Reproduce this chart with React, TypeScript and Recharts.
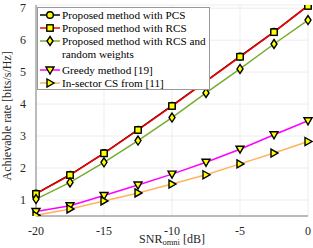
import { LineChart, Line, XAxis, YAxis, CartesianGrid } from "recharts";

const snr = [-20, -17.5, -15, -12.5, -10, -7.5, -5, -2.5, 0];
const pcs = [1.2, 1.79, 2.47, 3.2, 3.95, 4.72, 5.49, 6.26, 7.08];
const rcs = [1.19, 1.78, 2.46, 3.19, 3.94, 4.71, 5.48, 6.25, 7.07];
const rcsRandom = [1.03, 1.55, 2.18, 2.86, 3.58, 4.35, 5.1, 5.88, 6.63];
const greedy = [0.64, 0.82, 1.14, 1.47, 1.81, 2.18, 2.59, 3.04, 3.48];
const inSector = [0.52, 0.72, 0.97, 1.22, 1.5, 1.79, 2.13, 2.47, 2.83];

const xTicks = [-20, -15, -10, -5, 0];
const yTicks = [1, 2, 3, 4, 5, 6, 7];

const legendLabels = [
  ["Proposed method with PCS"],
  ["Proposed method with RCS"],
  ["Proposed method with RCS and", "random weights"],
  ["Greedy method [19]"],
  ["In-sector CS from [11]"],
];

const data = snr.map((x, i) => ({
  snr: x,
  pcs: pcs[i],
  rcs: rcs[i],
  rcsRandom: rcsRandom[i],
  greedy: greedy[i],
  inSector: inSector[i],
}));

const FONT = "Liberation Serif";
const YELLOW = "#ffff00";
const colors = ["#000000", "#ff0000", "#77ac30", "#ff00ff", "#ffb35c"];
const shapes = ["circle", "square", "diamond", "down", "right"];

function Marker({ shape, cx, cy }: { shape: string; cx: number; cy: number }) {
  const p = { fill: YELLOW, stroke: "#000", strokeWidth: 1.4 };
  if (shape === "circle") return <circle cx={cx} cy={cy} r={3.3} {...p} />;
  if (shape === "square") return <rect x={cx - 3.2} y={cy - 3.2} width={6.4} height={6.4} {...p} />;
  if (shape === "diamond")
    return <polygon points={`${cx},${cy - 4.5} ${cx + 3},${cy} ${cx},${cy + 4.5} ${cx - 3},${cy}`} {...p} />;
  if (shape === "down")
    return <polygon points={`${cx - 4},${cy - 3} ${cx + 4},${cy - 3} ${cx},${cy + 4}`} {...p} />;
  return <polygon points={`${cx - 3},${cy - 4} ${cx + 4},${cy} ${cx - 3},${cy + 4}`} {...p} />;
}

function dotFor(shape: string) {
  return (props: any) => {
    const { cx, cy, index } = props;
    return <Marker key={`${shape}-${index}`} shape={shape} cx={cx} cy={cy} />;
  };
}

function XLabel(props: any) {
  const { viewBox } = props;
  const x = viewBox.x + viewBox.width / 2;
  return (
    <text x={x} y={243} textAnchor="middle" fontFamily={FONT} fontSize={12} fill="#262626">
      SNR<tspan fontSize={8.5} dy={2}>omni</tspan>
      <tspan dy={-2}> [dB]</tspan>
    </text>
  );
}

function Legend() {
  const rows = [15, 28, 41, 70, 83];
  return (
    <svg width={174} height={84} style={{ position: "absolute", left: 37, top: 7 }}>
      <rect x={0.5} y={0.5} width={172} height={82} fill="#fff" stroke="#999" strokeWidth={1} />
      {legendLabels.map((lines, i) => {
        const y = rows[i] - 7;
        return (
          <g key={i}>
            <line x1={3} x2={23} y1={y} y2={y} stroke={colors[i]} strokeWidth={1.5} />
            <Marker shape={shapes[i]} cx={13} cy={y} />
            {lines.map((t, j) => (
              <text key={j} x={25} y={y + 4 + j * 13} fontFamily={FONT} fontSize={11.2} fill="#000">
                {t}
              </text>
            ))}
          </g>
        );
      })}
    </svg>
  );
}

export default function App() {
  const keys = ["pcs", "rcs", "rcsRandom", "greedy", "inSector"];
  return (
    <div style={{ position: "absolute", left: 0, top: 0, width: 313, height: 248, background: "#fff" }}>
      <LineChart width={313} height={248} data={data} margin={{ top: 5, right: 5, bottom: 12, left: 10 }}>
        <CartesianGrid stroke="#e8e8e8" strokeWidth={0.8} horizontal vertical />
        <XAxis
          dataKey="snr"
          type="number"
          domain={[-20, 0]}
          ticks={xTicks}
          tick={{ fontSize: 12, fontFamily: FONT, fill: "#262626" }}
          tickLine={false}
          axisLine={{ stroke: "#808080" }}
          height={20}
          tickMargin={4}
          label={<XLabel />}
        />
        <XAxis
          xAxisId="top"
          dataKey="snr"
          type="number"
          domain={[-20, 0]}
          orientation="top"
          tick={false}
          tickLine={false}
          axisLine={{ stroke: "#808080" }}
          height={0}
        />
        <YAxis
          type="number"
          domain={[0.5, 7.1]}
          ticks={yTicks}
          tick={{ fontSize: 12, fontFamily: FONT, fill: "#262626" }}
          tickLine={false}
          axisLine={{ stroke: "#808080" }}
          width={26}
          tickMargin={4}
          allowDataOverflow
          label={{
            value: "Achievable rate [bits/s/Hz]",
            angle: -90,
            position: "insideLeft",
            dx: -8,
            dy: 70,
            style: { fontSize: 12, fontFamily: FONT, fill: "#262626" },
          }}
        />
        <YAxis
          yAxisId="right"
          orientation="right"
          domain={[0.5, 7.1]}
          tick={false}
          tickLine={false}
          axisLine={{ stroke: "#808080" }}
          width={0}
        />
        {keys.map((k, i) => (
          <Line
            key={k}
            dataKey={k}
            type="linear"
            stroke={colors[i]}
            strokeWidth={1.5}
            dot={dotFor(shapes[i])}
            activeDot={false}
            isAnimationActive={false}
          />
        ))}
      </LineChart>
      <Legend />
    </div>
  );
}
